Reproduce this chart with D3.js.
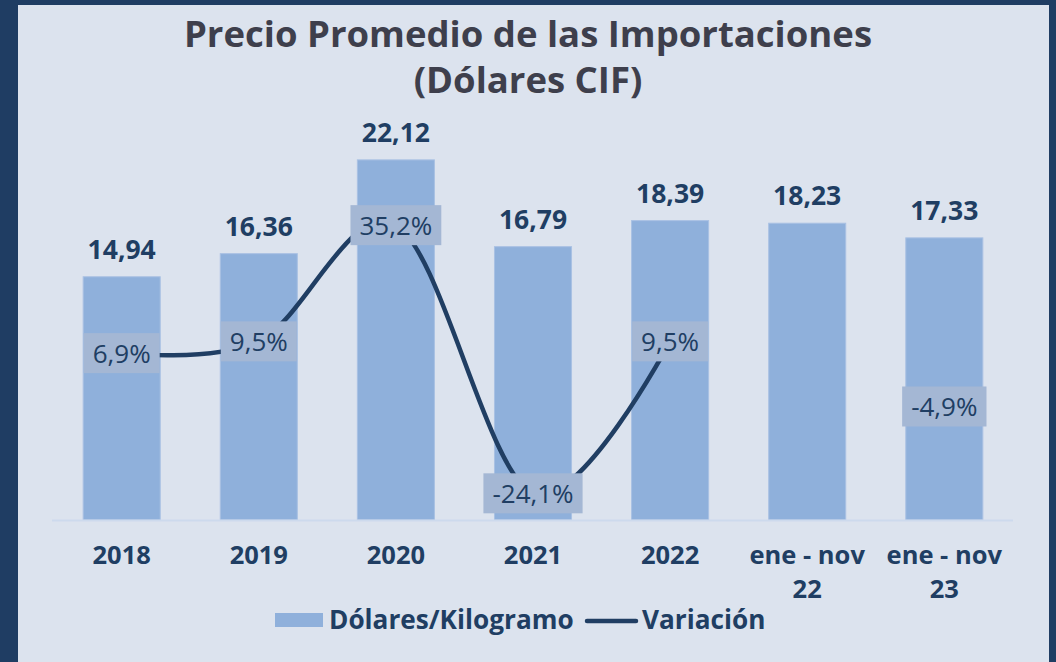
<!DOCTYPE html>
<html>
<head>
<meta charset="utf-8">
<script src="https://cdn.jsdelivr.net/npm/d3@7"></script>
<style>
  html, body { margin: 0; padding: 0; background: #1f3d63; }
  svg { display: block; }
</style>
</head>
<body>
<svg id="chart" width="1056" height="662"></svg>
<script>
// Datos del gráfico
const categories = ["2018", "2019", "2020", "2021", "2022", "ene - nov 22", "ene - nov 23"];
const dolaresKg = [14.94, 16.36, 22.12, 16.79, 18.39, 18.23, 17.33];
const variacion = [6.9, 9.5, 35.2, -24.1, 9.5, null, -4.9];
const titleLines = ["Precio Promedio de las Importaciones", "(Dólares CIF)"];
const seriesNames = ["Dólares/Kilogramo", "Variación"];

const W = 1056, H = 662;
const FONT = "'Open Sans', 'DejaVu Sans', sans-serif";
const NAVY = "#203e63";
const BAR = "#8fb0db";
const BOXFILL = "#a4b7d4";

const fmt = v => v.toFixed(2).replace(".", ",");
const fmtPct = v => v.toFixed(1).replace(".", ",") + "%";

const svg = d3.select("#chart");

// marco oscuro y fondo del área del gráfico
svg.append("rect").attr("width", W).attr("height", H).attr("fill", "#1f3d63");
svg.append("rect").attr("x", 18).attr("y", 5).attr("width", 1031).attr("height", H - 5).attr("fill", "#dce3ee");

// Título
svg.append("g").selectAll("text").data(titleLines).join("text")
  .attr("x", 528)
  .attr("y", (d, i) => 47 + i * 46)
  .attr("text-anchor", "middle")
  .attr("font-family", FONT)
  .attr("font-weight", 700)
  .attr("font-size", 36.5)
  .attr("fill", "#3e3f4c")
  .text(d => d);

// Escalas
const x = d3.scaleBand().domain(categories).range([53, 1013]).paddingInner(0.438).paddingOuter(0.22);
const y = d3.scaleLinear().domain([0, 25]).range([520, 113]);
const y2 = d3.scaleLinear().domain([-30, 60]).range([520, 113]);

// Barras
svg.append("g").selectAll("rect").data(dolaresKg).join("rect")
  .attr("x", (d, i) => x(categories[i]))
  .attr("y", d => y(d))
  .attr("width", x.bandwidth())
  .attr("height", d => y(0) - y(d))
  .attr("fill", BAR)
  .attr("stroke", "#a9c1e3")
  .attr("stroke-width", 1);

// Línea base del eje
svg.append("line")
  .attr("x1", 52).attr("x2", 1013)
  .attr("y1", y(0) + 0.5).attr("y2", y(0) + 0.5)
  .attr("stroke", "#cddaed").attr("stroke-width", 2);

// Etiquetas de valores de las barras
svg.append("g").selectAll("text").data(dolaresKg).join("text")
  .attr("x", (d, i) => x(categories[i]) + x.bandwidth() / 2)
  .attr("y", d => y(d) - 18)
  .attr("text-anchor", "middle")
  .attr("font-family", FONT)
  .attr("font-weight", 700)
  .attr("font-size", 26.5)
  .attr("fill", NAVY)
  .text(d => fmt(d));

// Línea suavizada de variación
const line = d3.line()
  .defined(d => d != null)
  .x((d, i) => x(categories[i]) + x.bandwidth() / 2)
  .y(d => y2(d))
  .curve(d3.curveCatmullRom.alpha(0));

svg.append("path")
  .attr("d", line(variacion))
  .attr("fill", "none")
  .attr("stroke", NAVY)
  .attr("stroke-width", 4.5)
  .attr("stroke-linecap", "round");

// Etiquetas de variación con caja de fondo
const pctG = svg.append("g");
variacion.forEach((v, i) => {
  if (v == null) return;
  const cx = x(categories[i]) + x.bandwidth() / 2;
  const cy = y2(v);
  const g = pctG.append("g");
  const rect = g.append("rect").attr("fill", BOXFILL);
  const t = g.append("text")
    .attr("x", cx)
    .attr("y", cy + 9.5)
    .attr("text-anchor", "middle")
    .attr("font-family", FONT)
    .attr("font-weight", 400)
    .attr("font-size", 26)
    .attr("fill", NAVY)
    .text(fmtPct(v));
  const w = t.node().getComputedTextLength() + 18;
  rect.attr("x", cx - w / 2).attr("y", cy - 20).attr("width", w).attr("height", 40);
});

// Etiquetas del eje de categorías (las de dos renglones se parten antes del año)
const tickLines = categories.map(c => c.startsWith("ene") ? [c.slice(0, c.lastIndexOf(" ")), c.slice(c.lastIndexOf(" ") + 1)] : [c]);
const xg = svg.append("g");
categories.forEach((c, i) => {
  xg.append("g").selectAll("text").data(tickLines[i]).join("text")
    .attr("x", x(c) + x.bandwidth() / 2)
    .attr("y", (d, j) => 564 + j * 34)
    .attr("text-anchor", "middle")
    .attr("font-family", FONT)
    .attr("font-weight", 700)
    .attr("font-size", 25.5)
    .attr("fill", NAVY)
    .text(d => d);
});

// Leyenda
const lg = svg.append("g");
lg.append("rect").attr("x", 275).attr("y", 613).attr("width", 48).attr("height", 14).attr("fill", BAR);
lg.append("text").attr("x", 329).attr("y", 629)
  .attr("font-family", FONT).attr("font-weight", 700).attr("font-size", 26.2).attr("fill", NAVY)
  .text(seriesNames[0]);
lg.append("line").attr("x1", 587).attr("x2", 636).attr("y1", 621).attr("y2", 621)
  .attr("stroke", NAVY).attr("stroke-width", 4.5).attr("stroke-linecap", "round");
lg.append("text").attr("x", 642).attr("y", 629)
  .attr("font-family", FONT).attr("font-weight", 700).attr("font-size", 26.2).attr("fill", NAVY)
  .text(seriesNames[1]);
</script>
</body>
</html>
